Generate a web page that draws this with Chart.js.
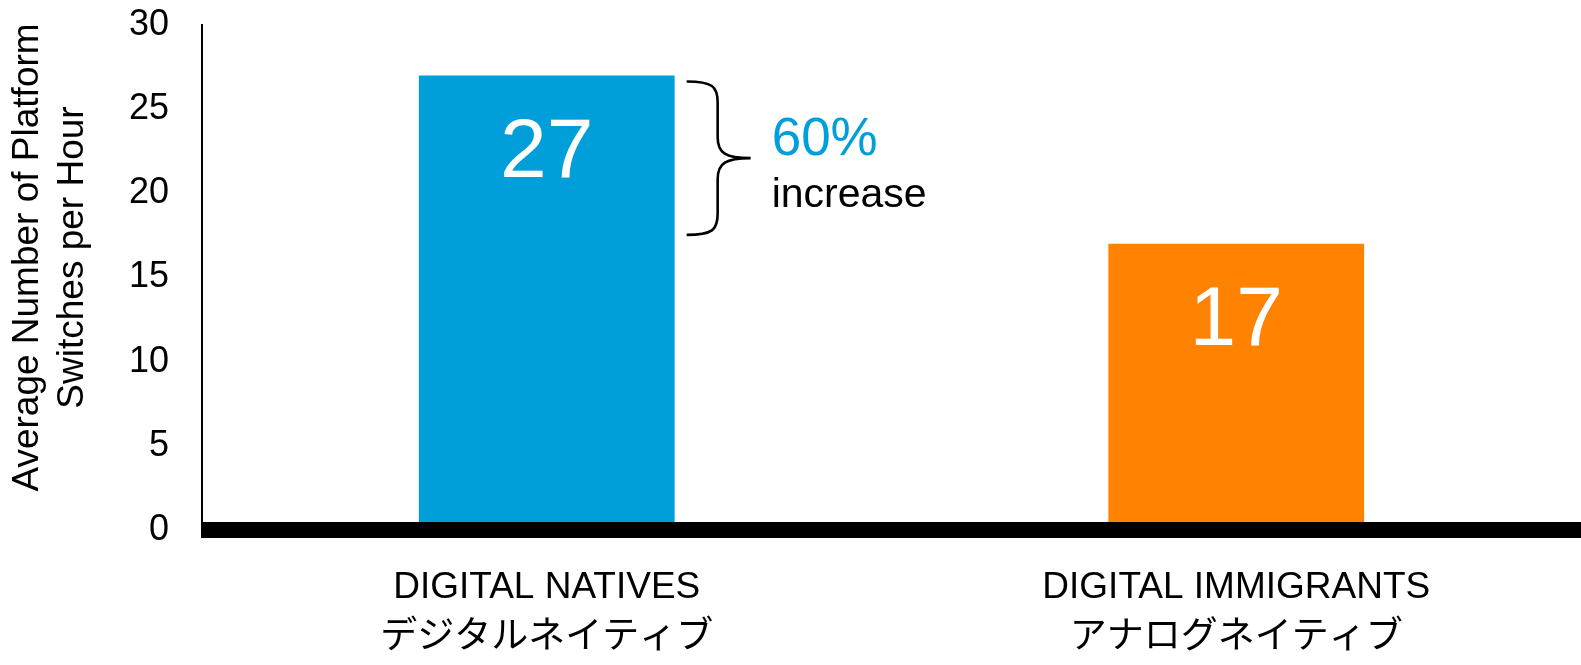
<!DOCTYPE html>
<html>
<head>
<meta charset="utf-8">
<script src="https://cdn.jsdelivr.net/npm/chart.js@4/dist/chart.umd.min.js"></script>
<style>
  html, body { margin: 0; padding: 0; background: #ffffff; }
  #wrap { width: 1581px; height: 665px; position: relative; }
</style>
</head>
<body>
<div id="wrap"><canvas id="chart" width="1581" height="665"></canvas></div>
<script>
// Categories (English + Japanese line) and average switches per hour
const categories = [
  ['DIGITAL NATIVES', 'デジタルネイティブ'],
  ['DIGITAL IMMIGRANTS', 'アナログネイティブ']
];
const switchesPerHour = [27, 17];
const barColors = ['#009FDA', '#FF8300'];
const yTicks = { min: 0, max: 30, step: 5 };
const yTitleLines = ['Average Number of Platform', 'Switches per Hour'];
const increaseLabel = ['60%', 'increase'];

const FONT = "'Liberation Sans', Arial, 'Noto Sans CJK JP', sans-serif";
Chart.defaults.font.family = FONT;
Chart.defaults.color = '#000000';

// White value labels inside each bar, near its top
const barValueLabels = {
  id: 'barValueLabels',
  afterDatasetsDraw(chart) {
    const ctx = chart.ctx;
    const meta = chart.getDatasetMeta(0);
    ctx.save();
    ctx.fillStyle = '#ffffff';
    ctx.font = `84px ${FONT}`;
    ctx.textAlign = 'center';
    ctx.textBaseline = 'middle';
    meta.data.forEach((bar, i) => {
      ctx.fillText(String(switchesPerHour[i]), bar.x, bar.y + 78);
    });
    ctx.restore();
  }
};

// Curly brace spanning the gap between the two bar heights, with its caption
const increaseBrace = {
  id: 'increaseBrace',
  afterDraw(chart) {
    const ctx = chart.ctx;
    const y = chart.scales.y;
    const bar = chart.getDatasetMeta(0).data[0];
    const x0 = bar.x + bar.width / 2 + 12;
    const xs = x0 + 31;
    const xt = x0 + 64;
    const top = y.getPixelForValue(switchesPerHour[0]) + 6;
    const bot = y.getPixelForValue(switchesPerHour[1]) - 9;
    const mid = (top + bot) / 2;
    const r = 21;
    ctx.save();
    ctx.strokeStyle = '#000000';
    ctx.lineWidth = 2.6;
    ctx.beginPath();
    ctx.moveTo(x0, top);
    ctx.bezierCurveTo(x0 + 26, top, xs, top + 5, xs, top + r);
    ctx.lineTo(xs, mid - r);
    ctx.bezierCurveTo(xs, mid - 5, xs + 8, mid, xt, mid);
    ctx.moveTo(xt, mid);
    ctx.bezierCurveTo(xs + 8, mid, xs, mid + 5, xs, mid + r);
    ctx.lineTo(xs, bot - r);
    ctx.bezierCurveTo(xs, bot - 5, x0 + 26, bot, x0, bot);
    ctx.stroke();

    ctx.textAlign = 'left';
    ctx.textBaseline = 'alphabetic';
    ctx.fillStyle = barColors[0];
    ctx.font = `53px ${FONT}`;
    ctx.fillText(increaseLabel[0], xt + 21, mid - 3);
    ctx.fillStyle = '#000000';
    ctx.font = `41px ${FONT}`;
    ctx.fillText(increaseLabel[1], xt + 21, mid + 49);
    ctx.restore();
  }
};

// Two-line rotated title for the value axis
const yAxisTitle = {
  id: 'yAxisTitle',
  afterDraw(chart) {
    const ctx = chart.ctx;
    const area = chart.chartArea;
    const cy = (area.top + area.bottom) / 2 - 20;
    ctx.save();
    ctx.fillStyle = '#000000';
    ctx.font = `37px ${FONT}`;
    ctx.textAlign = 'center';
    ctx.textBaseline = 'middle';
    yTitleLines.forEach((line, i) => {
      ctx.save();
      ctx.translate(28 + i * 45, cy);
      ctx.rotate(-Math.PI / 2);
      ctx.fillText(line, 0, 0);
      ctx.restore();
    });
    ctx.restore();
  }
};

new Chart(document.getElementById('chart'), {
  type: 'bar',
  data: {
    labels: categories,
    datasets: [{
      data: switchesPerHour,
      backgroundColor: barColors,
      borderWidth: 0,
      barPercentage: 0.371,
      categoryPercentage: 1.0
    }]
  },
  options: {
    responsive: false,
    animation: false,
    devicePixelRatio: 1,
    layout: { padding: { top: 25, right: 0, bottom: 0, left: 0 } },
    plugins: {
      legend: { display: false },
      tooltip: { enabled: false },
      title: { display: false }
    },
    scales: {
      x: {
        grid: { display: false, drawTicks: false },
        border: { display: false },
        ticks: {
          color: '#000000',
          font: { size: 37, lineHeight: 1.33 },
          padding: 33.5,
          maxRotation: 0,
          autoSkip: false
        },
        afterFit(scale) { scale.height = 135; }
      },
      y: {
        min: yTicks.min,
        max: yTicks.max,
        grid: {
          display: true,
          drawTicks: false,
          z: 1,
          color: (c) => (c.tick && c.tick.value === 0 ? '#000000' : 'rgba(0,0,0,0)'),
          lineWidth: (c) => (c.tick && c.tick.value === 0 ? 16 : 1)
        },
        border: { display: true, color: '#000000', width: 2, z: 1 },
        ticks: {
          stepSize: yTicks.step,
          color: '#000000',
          font: { size: 36 },
          padding: 33
        },
        afterFit(scale) {
          scale.width = 202;
          scale.paddingTop = 0;
          scale.paddingBottom = 0;
        }
      }
    }
  },
  plugins: [barValueLabels, increaseBrace, yAxisTitle]
});
</script>
</body>
</html>
